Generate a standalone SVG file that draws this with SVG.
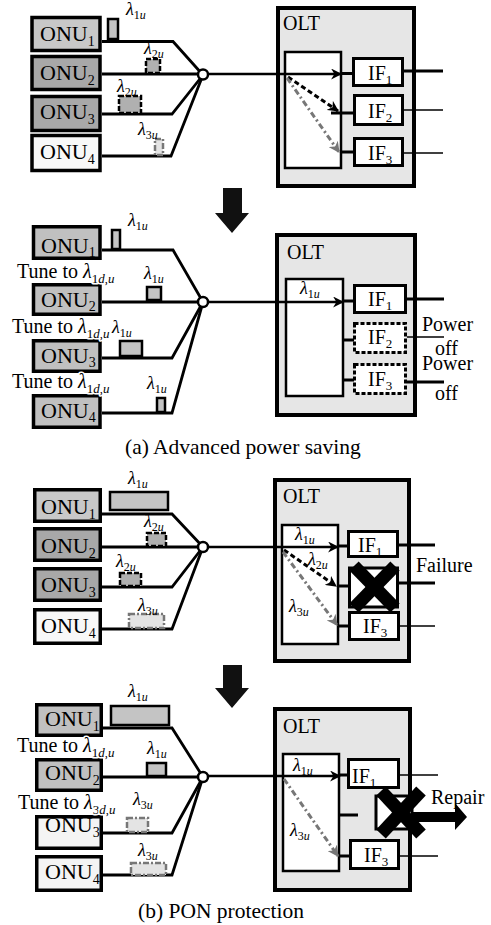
<svg xmlns="http://www.w3.org/2000/svg" width="491" height="925" viewBox="0 0 491 925" font-family="'Liberation Serif', 'DejaVu Serif', serif">
<defs>
<style>
.onu{font-size:22px}
.s{font-size:14px}
.lam{font-size:18px;font-style:italic}
.ls{font-size:12px;font-style:normal}
.it{font-style:italic}
.lbl{font-size:20px}
.ts{font-size:13px}
.cap{font-size:21.5px}
.halo{paint-order:stroke;stroke:#fff;stroke-width:3px;stroke-linejoin:round}
.box{stroke:#000;stroke-width:3.5}
.olt{fill:#e6e6e6;stroke:#000;stroke-width:4}
.inner{fill:#fff;stroke:#000;stroke-width:2.5}
.if{fill:#fff;stroke:#000;stroke-width:3}
.ifd{fill:#fff;stroke:#000;stroke-width:3;stroke-dasharray:4 2}
.fib{fill:none;stroke:#000;stroke-width:2.8}
.thin{fill:none;stroke:#000;stroke-width:1.6}
.thick{fill:none;stroke:#000;stroke-width:3}
.spl{fill:#fff;stroke:#000;stroke-width:2.5}
.sig1{fill:#c4c4c4;stroke:#000;stroke-width:2.5}
.sig2{fill:#b0b0b0;stroke:#000;stroke-width:2.5;stroke-dasharray:5 2}
.sig3{fill:#e4e4e4;stroke:#777;stroke-width:2.5;stroke-dasharray:6 2 2 2}
.a1{fill:none;stroke:#000;stroke-width:2.5}
.a2{fill:none;stroke:#000;stroke-width:3;stroke-dasharray:5 3}
.a3{fill:none;stroke:#777;stroke-width:3;stroke-dasharray:6 3 2 3}
.xx{stroke:#000;stroke-width:13;stroke-linecap:butt}
</style>
<marker id="hb" viewBox="0 0 10 10" refX="9" refY="5" markerWidth="11" markerHeight="11" markerUnits="userSpaceOnUse" orient="auto"><path d="M0,0 L10,5 L0,10 L3,5 z" fill="#000"/></marker>
<marker id="hg" viewBox="0 0 10 10" refX="9" refY="5" markerWidth="11" markerHeight="11" markerUnits="userSpaceOnUse" orient="auto"><path d="M0,0 L10,5 L0,10 L3,5 z" fill="#777"/></marker>
</defs>
<rect width="491" height="925" fill="#fff"/>

<!-- ===== Panel 1 ===== -->
<g id="p1-connectors">
<path class="fib" d="M102,41.5 H173 L203,75"/>
<path class="fib" d="M102,74 H198"/>
<path class="fib" d="M102,114 H172 L203,75"/>
<path class="fib" d="M102,156 H171 L203,75"/>
</g>
<g id="p1-onu1"><rect class="box" x="32" y="17.5" width="68" height="33" fill="#c8c8c8"/><text class="onu" x="40" y="41">ONU<tspan class="s" dy="5">1</tspan></text></g>
<g id="p1-onu2"><rect class="box" x="32" y="56.5" width="68" height="33" fill="#a8a8a8"/><text class="onu" x="40" y="80">ONU<tspan class="s" dy="5">2</tspan></text></g>
<g id="p1-onu3"><rect class="box" x="32" y="96.5" width="68" height="34" fill="#a8a8a8"/><text class="onu" x="40" y="119">ONU<tspan class="s" dy="5">3</tspan></text></g>
<g id="p1-onu4"><rect class="box" x="32" y="135.5" width="68" height="35" fill="#f8f8f8"/><text class="onu" x="40" y="159">ONU<tspan class="s" dy="5">4</tspan></text></g>
<g id="p1-signals">
<rect class="sig1" x="108" y="19" width="10" height="20"/>
<text class="lam" x="126" y="15">λ<tspan class="ls" dy="4">1<tspan class="it">u</tspan></tspan></text>
<rect class="sig2" x="146" y="59" width="14" height="14"/>
<text class="lam" x="144" y="54">λ<tspan class="ls" dy="4">2<tspan class="it">u</tspan></tspan></text>
<rect class="sig2" x="119" y="96" width="22" height="17"/>
<text class="lam" x="117" y="92">λ<tspan class="ls" dy="4">2<tspan class="it">u</tspan></tspan></text>
<rect class="sig3" x="155" y="139" width="8" height="16"/>
<text class="lam" x="138" y="135">λ<tspan class="ls" dy="4">3<tspan class="it">u</tspan></tspan></text>
</g>
<g id="p1-olt">
<rect class="olt" x="278" y="8" width="136" height="178"/>
<text class="lbl" x="283" y="30">OLT</text>
<rect class="inner" x="285" y="52" width="56" height="116"/>
</g>
<g id="p1-if1"><rect class="if" x="353.5" y="58.5" width="49" height="27"/><text class="lbl" x="368" y="80">IF<tspan class="ts" dy="4">1</tspan></text></g>
<g id="p1-if2"><rect class="if" x="354.5" y="95.5" width="48" height="29"/><text class="lbl" x="368" y="118">IF<tspan class="ts" dy="4">2</tspan></text></g>
<g id="p1-if3"><rect class="if" x="354.5" y="138.5" width="48" height="27"/><text class="lbl" x="368" y="160">IF<tspan class="ts" dy="4">3</tspan></text></g>
<g id="p1-links">
<circle class="spl" cx="203" cy="74.5" r="5"/>
<path class="a1" d="M208,74 H341" marker-end="url(#hb)"/>
<path class="thick" d="M341,73.5 H353"/>
<path class="a2" d="M288,77 L338,111" marker-end="url(#hb)"/>
<path class="a3" d="M287,78 L339,152" marker-end="url(#hg)"/>
<path class="thick" d="M331,113 H354"/>
<path class="thick" d="M341,152 H354"/>
<path class="thick" d="M404,71 H443"/>
<path class="thin" d="M404,110 H443"/>
<path class="thin" d="M404,153 H443"/>
</g>

<polygon id="arrow1" points="223,188 242,188 242,213 249,213 232,233 215,213 223,213" fill="#111"/>

<!-- ===== Panel 2 ===== -->
<g id="p2-connectors">
<path class="fib" d="M102,250 H173 L203,302"/>
<path class="fib" d="M102,302 H198"/>
<path class="fib" d="M102,358 H172 L203,302"/>
<path class="fib" d="M102,413 H172 L203,302"/>
</g>
<g id="p2-onu1"><rect class="box" x="33.5" y="226.75" width="66.5" height="31.5" fill="#c0c0c0"/><text class="onu" x="41" y="253">ONU<tspan class="s" dy="4">1</tspan></text></g>
<g id="p2-onu2"><rect class="box" x="33.5" y="284.75" width="66.5" height="29.5" fill="#c0c0c0"/><text class="onu" x="41" y="307">ONU<tspan class="s" dy="4">2</tspan></text></g>
<g id="p2-onu3"><rect class="box" x="33.5" y="340.75" width="66.5" height="30.5" fill="#c0c0c0"/><text class="onu" x="41" y="363">ONU<tspan class="s" dy="4">3</tspan></text></g>
<g id="p2-onu4"><rect class="box" x="33.5" y="395.75" width="66.5" height="31.5" fill="#c0c0c0"/><text class="onu" x="41" y="418">ONU<tspan class="s" dy="4">4</tspan></text></g>
<g id="p2-tune">
<text class="lbl halo" x="17" y="278">Tune to <tspan class="it">λ</tspan><tspan class="ts" dy="5">1<tspan class="it">d</tspan>,<tspan class="it">u</tspan></tspan></text>
<text class="lbl halo" x="12" y="333">Tune to <tspan class="it">λ</tspan><tspan class="ts" dy="5">1<tspan class="it">d</tspan>,<tspan class="it">u</tspan></tspan></text>
<text class="lbl halo" x="12" y="388">Tune to <tspan class="it">λ</tspan><tspan class="ts" dy="5">1<tspan class="it">d</tspan>,<tspan class="it">u</tspan></tspan></text>
</g>
<g id="p2-signals">
<rect class="sig1" x="112" y="230" width="8" height="19"/>
<text class="lam" x="128" y="226">λ<tspan class="ls" dy="4">1<tspan class="it">u</tspan></tspan></text>
<rect class="sig1" x="147" y="287" width="14" height="13"/>
<text class="lam" x="144" y="279">λ<tspan class="ls" dy="4">1<tspan class="it">u</tspan></tspan></text>
<rect class="sig1" x="120" y="341" width="22" height="15"/>
<text class="lam" x="112" y="333">λ<tspan class="ls" dy="4">1<tspan class="it">u</tspan></tspan></text>
<rect class="sig1" x="157" y="398" width="8" height="14"/>
<text class="lam" x="147" y="389">λ<tspan class="ls" dy="4">1<tspan class="it">u</tspan></tspan></text>
</g>
<g id="p2-olt">
<rect class="olt" x="277" y="235" width="138" height="180"/>
<text class="lbl" x="287" y="259">OLT</text>
<rect class="inner" x="286" y="279" width="57" height="117"/>
<text class="lam" x="300" y="294">λ<tspan class="ls" dy="4">1<tspan class="it">u</tspan></tspan></text>
</g>
<g id="p2-if1"><rect class="if" x="354.5" y="285.5" width="51" height="27"/><text class="lbl" x="368" y="306">IF<tspan class="ts" dy="4">1</tspan></text></g>
<g id="p2-if2"><rect class="ifd" x="354.5" y="323.5" width="51" height="29"/><text class="lbl" x="368" y="344">IF<tspan class="ts" dy="4">2</tspan></text></g>
<g id="p2-if3"><rect class="ifd" x="354.5" y="364.5" width="51" height="29"/><text class="lbl" x="368" y="386">IF<tspan class="ts" dy="4">3</tspan></text></g>
<g id="p2-links">
<circle class="spl" cx="203" cy="302" r="5"/>
<path class="a1" d="M208,302 H343" marker-end="url(#hb)"/>
<path class="thick" d="M343,301 H354"/>
<path class="thick" d="M343,340 H354"/>
<path class="thick" d="M343,380 H354"/>
<path class="thick" d="M407,299 H444"/>
<path class="thin" d="M407,337 H444"/>
<path class="thick" d="M407,382 H444"/>
</g>
<g id="p2-power">
<text class="lbl" x="422" y="331">Power</text>
<text class="lbl" x="435" y="355">off</text>
<text class="lbl" x="422" y="370">Power</text>
<text class="lbl" x="435" y="400">off</text>
</g>

<text id="cap-a" class="cap" x="125" y="454">(a) Advanced power saving</text>

<!-- ===== Panel 3 ===== -->
<g id="p3-connectors">
<path class="fib" d="M102,514 H172 L203,547"/>
<path class="fib" d="M102,547 H198"/>
<path class="fib" d="M102,587 H172 L203,547"/>
<path class="fib" d="M102,629 H172 L203,547"/>
</g>
<g id="p3-onu1"><rect class="box" x="34.75" y="489.75" width="65.5" height="31.5" fill="#c8c8c8"/><text class="onu" x="41" y="514">ONU<tspan class="s" dy="5">1</tspan></text></g>
<g id="p3-onu2"><rect class="box" x="34.75" y="528.75" width="65.5" height="31.5" fill="#a8a8a8"/><text class="onu" x="41" y="553">ONU<tspan class="s" dy="5">2</tspan></text></g>
<g id="p3-onu3"><rect class="box" x="34.75" y="568.75" width="65.5" height="31.5" fill="#a8a8a8"/><text class="onu" x="41" y="592">ONU<tspan class="s" dy="5">3</tspan></text></g>
<g id="p3-onu4"><rect class="box" x="34.75" y="609.75" width="65.5" height="33.5" fill="#f8f8f8"/><text class="onu" x="41" y="633">ONU<tspan class="s" dy="5">4</tspan></text></g>
<g id="p3-signals">
<rect class="sig1" x="110" y="492" width="58" height="18"/>
<text class="lam" x="128" y="484">λ<tspan class="ls" dy="4">1<tspan class="it">u</tspan></tspan></text>
<rect class="sig2" x="147" y="533" width="19" height="13"/>
<text class="lam" x="144" y="527">λ<tspan class="ls" dy="4">2<tspan class="it">u</tspan></tspan></text>
<rect class="sig2" x="120" y="573" width="21" height="13"/>
<text class="lam" x="116" y="567">λ<tspan class="ls" dy="4">2<tspan class="it">u</tspan></tspan></text>
<rect class="sig3" x="129" y="614" width="35" height="14"/>
<text class="lam" x="138" y="611">λ<tspan class="ls" dy="4">3<tspan class="it">u</tspan></tspan></text>
</g>
<g id="p3-olt">
<rect class="olt" x="275" y="480" width="134" height="181"/>
<text class="lbl" x="283" y="503">OLT</text>
<rect class="inner" x="282" y="525" width="56" height="119"/>
<text class="lam" x="295" y="540">λ<tspan class="ls" dy="4">1<tspan class="it">u</tspan></tspan></text>
<text class="lam" x="308" y="565">λ<tspan class="ls" dy="4">2<tspan class="it">u</tspan></tspan></text>
<text class="lam" x="289" y="612">λ<tspan class="ls" dy="4">3<tspan class="it">u</tspan></tspan></text>
</g>
<g id="p3-if1"><rect class="if" x="348.5" y="531.5" width="49" height="25"/><text class="lbl" x="358" y="552">IF<tspan class="ts" dy="4">1</tspan></text></g>
<g id="p3-if2"><rect class="if" x="349.5" y="568" width="48" height="39"/>
<line class="xx" x1="354" y1="566" x2="395" y2="608"/><line class="xx" x1="395" y1="566" x2="354" y2="608"/></g>
<g id="p3-if3"><rect class="if" x="349.5" y="612.5" width="49" height="27"/><text class="lbl" x="363" y="633">IF<tspan class="ts" dy="4">3</tspan></text></g>
<g id="p3-links">
<circle class="spl" cx="203" cy="547" r="5"/>
<path class="a1" d="M208,547 H338" marker-end="url(#hb)"/>
<path class="thick" d="M338,546 H349"/>
<path class="a2" d="M284,550 L336,586" marker-end="url(#hb)"/>
<path class="a3" d="M283,552 L337,625" marker-end="url(#hg)"/>
<path class="thick" d="M338,586 H350"/>
<path class="thick" d="M338,626 H350"/>
<path class="thick" d="M398,545 H435"/>
<path class="thick" d="M398,583 H435"/>
<path class="thin" d="M398,626 H435"/>
</g>
<text id="p3-failure" class="lbl" x="416" y="572">Failure</text>

<polygon id="arrow2" points="223,665 242,665 242,688 249,688 232,708 215,688 223,688" fill="#111"/>

<!-- ===== Panel 4 ===== -->
<g id="p4-connectors">
<path class="fib" d="M103,728 H172 L203,777"/>
<path class="fib" d="M103,777 H198"/>
<path class="fib" d="M103,833 H172 L203,777"/>
<path class="fib" d="M103,875 H172 L203,777"/>
</g>
<g id="p4-onu1"><rect class="box" x="36.75" y="704.75" width="64.5" height="30.5" fill="#c0c0c0"/><text class="onu" x="45" y="726">ONU<tspan class="s" dy="5">1</tspan></text></g>
<g id="p4-onu2"><rect class="box" x="36.75" y="759.75" width="64.5" height="30.5" fill="#c0c0c0"/><text class="onu" x="45" y="780">ONU<tspan class="s" dy="5">2</tspan></text></g>
<g id="p4-onu3"><rect class="box" x="36.75" y="816.75" width="64.5" height="31.5" fill="#f4f4f4"/><text class="onu" x="45" y="832">ONU<tspan class="s" dy="5">3</tspan></text></g>
<g id="p4-onu4"><rect class="box" x="36.75" y="856.75" width="64.5" height="33.5" fill="#f4f4f4"/><text class="onu" x="45" y="879">ONU<tspan class="s" dy="5">4</tspan></text></g>
<g id="p4-tune">
<text class="lbl halo" x="17" y="752">Tune to <tspan class="it">λ</tspan><tspan class="ts" dy="5">1<tspan class="it">d</tspan>,<tspan class="it">u</tspan></tspan></text>
<text class="lbl halo" x="18" y="809">Tune to <tspan class="it">λ</tspan><tspan class="ts" dy="5">3<tspan class="it">d</tspan>,<tspan class="it">u</tspan></tspan></text>
</g>
<g id="p4-signals">
<rect class="sig1" x="111" y="706" width="58" height="19"/>
<text class="lam" x="128" y="697">λ<tspan class="ls" dy="4">1<tspan class="it">u</tspan></tspan></text>
<rect class="sig1" x="147" y="763" width="19" height="13"/>
<text class="lam" x="147" y="754">λ<tspan class="ls" dy="4">1<tspan class="it">u</tspan></tspan></text>
<rect class="sig3" x="127" y="818" width="21" height="14"/>
<text class="lam" x="133" y="805">λ<tspan class="ls" dy="4">3<tspan class="it">u</tspan></tspan></text>
<rect class="sig3" x="131" y="863" width="35" height="12"/>
<text class="lam" x="138" y="856">λ<tspan class="ls" dy="4">3<tspan class="it">u</tspan></tspan></text>
</g>
<g id="p4-olt">
<rect class="olt" x="275" y="709" width="135" height="181"/>
<text class="lbl" x="283" y="733">OLT</text>
<rect class="inner" x="283" y="754" width="56" height="117"/>
<text class="lam" x="293" y="771">λ<tspan class="ls" dy="4">1<tspan class="it">u</tspan></tspan></text>
<text class="lam" x="290" y="836">λ<tspan class="ls" dy="4">3<tspan class="it">u</tspan></tspan></text>
</g>
<g id="p4-if1"><rect class="if" x="348.5" y="759.5" width="50" height="28"/><text class="lbl" x="352" y="783">IF<tspan class="ts" dy="4">1</tspan></text></g>
<g id="p4-if2"><rect class="if" x="376" y="796" width="36" height="33"/>
<line class="xx" x1="381" y1="791" x2="421" y2="834"/><line class="xx" x1="421" y1="791" x2="381" y2="834"/></g>
<g id="p4-if3"><rect class="if" x="350.5" y="840.5" width="48" height="28"/><text class="lbl" x="364" y="862">IF<tspan class="ts" dy="4">3</tspan></text></g>
<g id="p4-links">
<circle class="spl" cx="203" cy="777" r="5"/>
<path class="a1" d="M208,776 H340" marker-end="url(#hb)"/>
<path class="thick" d="M340,775 H349"/>
<path class="a3" d="M284,779 L338,856" marker-end="url(#hg)"/>
<path class="thick" d="M340,856 H351"/>
<path class="thick" d="M340,815 H358"/>
<path class="thin" d="M398,775 H438"/>
<path class="thin" d="M398,856 H438"/>
<polygon points="413,812 455,812 455,803 467,817 455,830 455,822 413,822" fill="#000"/>
</g>
<text id="p4-repair" class="lbl" x="431" y="804">Repair</text>

<text id="cap-b" class="cap" x="138" y="918">(b) PON protection</text>
</svg>
